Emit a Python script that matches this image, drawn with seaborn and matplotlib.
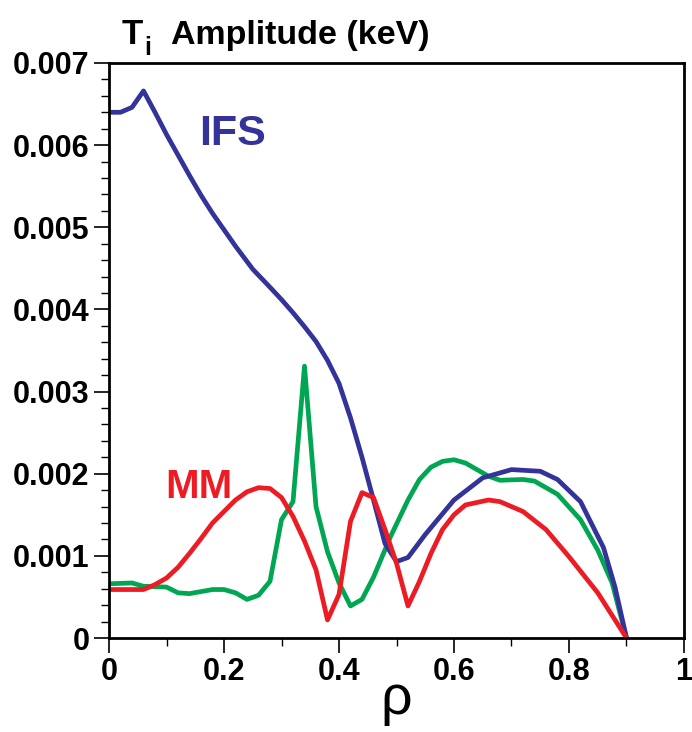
import numpy as np
import pandas as pd
import matplotlib
matplotlib.use("Agg")
import matplotlib.pyplot as plt
import seaborn as sns
from matplotlib.ticker import MultipleLocator

# ---- data ----
ifs_rho = [0.0, 0.02, 0.04, 0.06, 0.08, 0.10, 0.12, 0.14, 0.16, 0.18, 0.20, 0.22, 0.25,
           0.28, 0.30, 0.32, 0.34, 0.36, 0.38, 0.40, 0.42, 0.44, 0.46, 0.48, 0.50, 0.52,
           0.55, 0.60, 0.65, 0.70, 0.75, 0.78, 0.82, 0.86, 0.88, 0.90]
ifs_amp = [6.40, 6.40, 6.46, 6.66, 6.40, 6.13, 5.88, 5.63, 5.39, 5.17, 4.97, 4.77, 4.49,
           4.27, 4.12, 3.96, 3.79, 3.61, 3.38, 3.10, 2.68, 2.20, 1.68, 1.15, 0.93, 0.98,
           1.26, 1.68, 1.95, 2.05, 2.03, 1.93, 1.66, 1.10, 0.62, 0.0]

grn_rho = [0.0, 0.04, 0.06, 0.10, 0.12, 0.14, 0.18, 0.20, 0.22, 0.24, 0.26, 0.28, 0.30,
           0.32, 0.34, 0.36, 0.38, 0.40, 0.42, 0.44, 0.46, 0.49, 0.52, 0.54, 0.56, 0.58,
           0.60, 0.62, 0.66, 0.68, 0.72, 0.74, 0.78, 0.82, 0.85, 0.875, 0.90]
grn_amp = [0.66, 0.67, 0.63, 0.62, 0.55, 0.54, 0.59, 0.59, 0.55, 0.47, 0.52, 0.69, 1.44,
           1.66, 3.31, 1.60, 1.05, 0.67, 0.39, 0.47, 0.74, 1.24, 1.68, 1.93, 2.08, 2.15,
           2.17, 2.13, 1.97, 1.92, 1.93, 1.91, 1.75, 1.44, 1.07, 0.67, 0.0]

mm_rho = [0.0, 0.04, 0.06, 0.08, 0.10, 0.12, 0.14, 0.16, 0.18, 0.20, 0.22, 0.24, 0.26,
          0.28, 0.30, 0.32, 0.34, 0.36, 0.38, 0.40, 0.42, 0.44, 0.46, 0.48, 0.50, 0.52,
          0.54, 0.56, 0.58, 0.60, 0.62, 0.66, 0.68, 0.72, 0.76, 0.80, 0.85, 0.90]
mm_amp = [0.59, 0.59, 0.59, 0.65, 0.73, 0.86, 1.03, 1.21, 1.40, 1.54, 1.68, 1.78, 1.83,
          1.82, 1.71, 1.48, 1.18, 0.83, 0.22, 0.53, 1.42, 1.77, 1.71, 1.32, 0.91, 0.39,
          0.69, 1.03, 1.32, 1.50, 1.62, 1.68, 1.66, 1.54, 1.32, 0.99, 0.55, 0.0]

x_ticks = [0, 0.2, 0.4, 0.6, 0.8, 1.0]
x_labels = ["0", "0.2", "0.4", "0.6", "0.8", "1"]
y_ticks = [0, 0.001, 0.002, 0.003, 0.004, 0.005, 0.006, 0.007]
y_labels = ["0", "0.001", "0.002", "0.003", "0.004", "0.005", "0.006", "0.007"]

BLUE = "#333399"
GREEN = "#00a651"
RED = "#ed1c24"

df = pd.concat([
    pd.DataFrame({"rho": ifs_rho, "amp": np.array(ifs_amp) * 1e-3, "case": "IFS"}),
    pd.DataFrame({"rho": grn_rho, "amp": np.array(grn_amp) * 1e-3, "case": "GLF"}),
    pd.DataFrame({"rho": mm_rho, "amp": np.array(mm_amp) * 1e-3, "case": "MM"}),
], ignore_index=True)

sns.set_style("white")
FAM = ["Liberation Sans Narrow", "Liberation Sans", "DejaVu Sans"]
plt.rcParams["font.family"] = FAM
plt.rcParams["text.color"] = "black"
plt.rcParams["xtick.color"] = "black"
plt.rcParams["ytick.color"] = "black"
plt.rcParams["axes.labelcolor"] = "black"

fig = plt.figure(figsize=(6.92, 7.32), dpi=100)
ax = fig.add_axes([109 / 692, (732 - 638) / 732, (684 - 109) / 692, (638 - 63) / 732])

sns.lineplot(data=df, x="rho", y="amp", hue="case", sort=False, estimator=None,
             palette={"IFS": BLUE, "GLF": GREEN, "MM": RED},
             hue_order=["GLF", "IFS", "MM"], linewidth=3.4, legend=False, ax=ax)

ax.set_xlim(0, 1)
ax.set_ylim(0, 0.007)
ax.set_xticks(x_ticks)
ax.set_xticklabels(x_labels)
ax.set_yticks(y_ticks)
ax.set_yticklabels(y_labels)
ax.xaxis.set_minor_locator(MultipleLocator(0.1))
ax.yaxis.set_minor_locator(MultipleLocator(0.0002))
ax.tick_params(which="major", direction="out", length=11, width=1.2, color="black",
               labelcolor="black", labelsize=22, pad=3)
ax.tick_params(which="minor", direction="out", length=5.5, width=1.0, color="black")
ax.tick_params(axis="both", which="both", bottom=True, left=True, top=False, right=False)
for lab in ax.get_xticklabels() + ax.get_yticklabels():
    lab.set_fontweight("bold")
    lab.set_color("black")
for s in ax.spines.values():
    s.set_visible(True)
    s.set_linewidth(2.0)
    s.set_color("black")
ax.set_xlabel("")
ax.set_ylabel("")

# rho label
fig.text(396 / 692, 1 - 700 / 732, "ρ", ha="center", va="center", fontsize=40,
         color="black", family=["Liberation Sans", "DejaVu Sans"])

# title
fig.text(122 / 692, 1 - 44 / 732, "T", ha="left", va="baseline", fontsize=25,
         fontweight="bold", color="black")
fig.text(144 / 692, 1 - 55 / 732, "i", ha="left", va="baseline", fontsize=18,
         fontweight="bold", color="black")
fig.text(171 / 692, 1 - 44 / 732, "Amplitude (keV)", ha="left", va="baseline",
         fontsize=24.5, fontweight="bold", color="black")

# series labels
ax.text(0.157, 0.00613, "IFS", color=BLUE, fontsize=31, fontweight="bold",
        ha="left", va="center")
ax.text(0.098, 0.00184, "MM", color=RED, fontsize=29, fontweight="bold",
        ha="left", va="center")

fig.savefig("out.png", dpi=100)
